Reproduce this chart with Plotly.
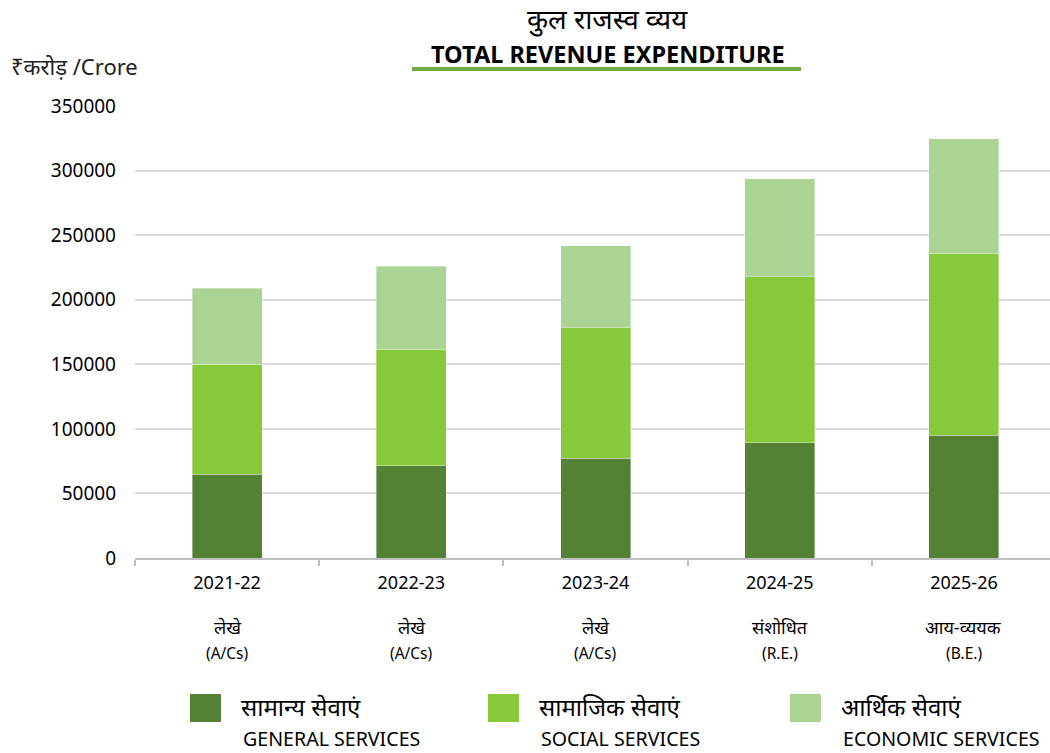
import plotly.graph_objects as go

# ---------------- data ----------------
years = ["2021-22", "2022-23", "2023-24", "2024-25", "2025-26"]
stage_hi = ["लेखे", "लेखे", "लेखे", "संशोधित", "आय-व्ययक"]
stage_en = ["(A/Cs)", "(A/Cs)", "(A/Cs)", "(R.E.)", "(B.E.)"]

general_services = [65000, 71500, 77200, 89300, 95000]
social_services = [85000, 90000, 101000, 128300, 141000]
economic_services = [59000, 64500, 63500, 76000, 88500]

series_hi = ["सामान्य सेवाएं", "सामाजिक सेवाएं", "आर्थिक सेवाएं"]
series_en = ["GENERAL SERVICES", "SOCIAL SERVICES", "ECONOMIC SERVICES"]
colors = ["#548235", "#88c93c", "#aad394"]

title_hi = "कुल राजस्व व्यय"
title_en = "TOTAL REVENUE EXPENDITURE"
unit_label = "₹करोड़ /Crore"
y_ticks = [0, 50000, 100000, 150000, 200000, 250000, 300000, 350000]

# ---------------- layout helpers ----------------
W, H = 1050, 753
L, R, T, B = 135, 0, 106, 195
PW, PH = W - L - R, H - T - B


def px(x):
    return (x - L) / PW


def py(y):
    return (H - B - y) / PH


FONT = "Noto Sans, Open Sans, sans-serif"

fig = go.Figure()
for vals, name, col in zip([general_services, social_services, economic_services], series_en, colors):
    fig.add_trace(go.Bar(x=years, y=vals, name=name,
                         marker=dict(color=col, line=dict(width=0.6, color="rgba(255,255,255,0.6)")),
                         width=0.38))

annotations = []
shapes = []

# titles
annotations.append(dict(text=title_hi, x=px(607), y=py(19), xref="paper", yref="paper", showarrow=False,
                        font=dict(size=27.5, color="#000", family=FONT), xanchor="center", yanchor="middle"))
annotations.append(dict(text="<b>" + title_en + "</b>", x=px(608), y=py(54), xref="paper", yref="paper", showarrow=False,
                        font=dict(size=23.5, color="#000", family=FONT), xanchor="center", yanchor="middle"))
shapes.append(dict(type="line", xref="paper", yref="paper", x0=px(412), x1=px(801), y0=py(69), y1=py(69),
                   line=dict(color="#70ad47", width=4)))
annotations.append(dict(text=unit_label, x=px(9), y=py(66), xref="paper", yref="paper", showarrow=False,
                        font=dict(size=22, color="#222", family=FONT), xanchor="left", yanchor="middle"))

# stage sub-labels under each category
for yr, hi, en in zip(years, stage_hi, stage_en):
    annotations.append(dict(text=hi, x=yr, y=py(627), xref="x", yref="paper", showarrow=False,
                            font=dict(size=18, color="#000", family=FONT), xanchor="center", yanchor="middle"))
    annotations.append(dict(text=en, x=yr, y=py(653), xref="x", yref="paper", showarrow=False,
                            font=dict(size=15.5, color="#000", family=FONT), xanchor="center", yanchor="middle"))

# custom legend
leg_x = [190, 488, 790]
for lx, hi, en, col in zip(leg_x, series_hi, series_en, colors):
    shapes.append(dict(type="rect", xref="paper", yref="paper", x0=px(lx), x1=px(lx + 31), y0=py(722), y1=py(694),
                       fillcolor=col, line=dict(width=0)))
    annotations.append(dict(text=hi, x=px(lx + 49), y=py(706), xref="paper", yref="paper", showarrow=False,
                            font=dict(size=24, color="#000", family=FONT), xanchor="left", yanchor="middle"))
    annotations.append(dict(text=en, x=px(lx + 51), y=py(738), xref="paper", yref="paper", showarrow=False,
                            font=dict(size=19.6, color="#000", family=FONT), xanchor="left", yanchor="middle"))

fig.update_layout(
    width=W, height=H,
    margin=dict(l=L, r=R, t=T, b=B, pad=0),
    barmode="stack",
    showlegend=False,
    plot_bgcolor="white", paper_bgcolor="white",
    annotations=annotations, shapes=shapes,
    font=dict(family=FONT, color="#000"),
)
fig.update_xaxes(
    type="category", tickmode="array", tickvals=years, ticktext=years,
    range=[-0.5, 4.467],
    showgrid=False, showline=True, linecolor="#bfbfbf", linewidth=1.5,
    ticks="outside", tickson="boundaries", ticklen=6, tickcolor="#bfbfbf", tickwidth=1.5,
    tickfont=dict(size=18, color="#000", family=FONT), ticklabelstandoff=8,
)
fig.update_yaxes(
    range=[0, 350000], tickvals=y_ticks, ticktext=[str(v) for v in y_ticks],
    showgrid=True, gridcolor="#d9d9d9", gridwidth=2, zeroline=False, showline=False,
    tickfont=dict(size=19, color="#000", family=FONT), ticklabelstandoff=18,
)

fig.write_html("out.html", config={"displayModeBar": False},
               post_script="document.body.style.margin='0px';document.body.style.overflow='hidden';")
